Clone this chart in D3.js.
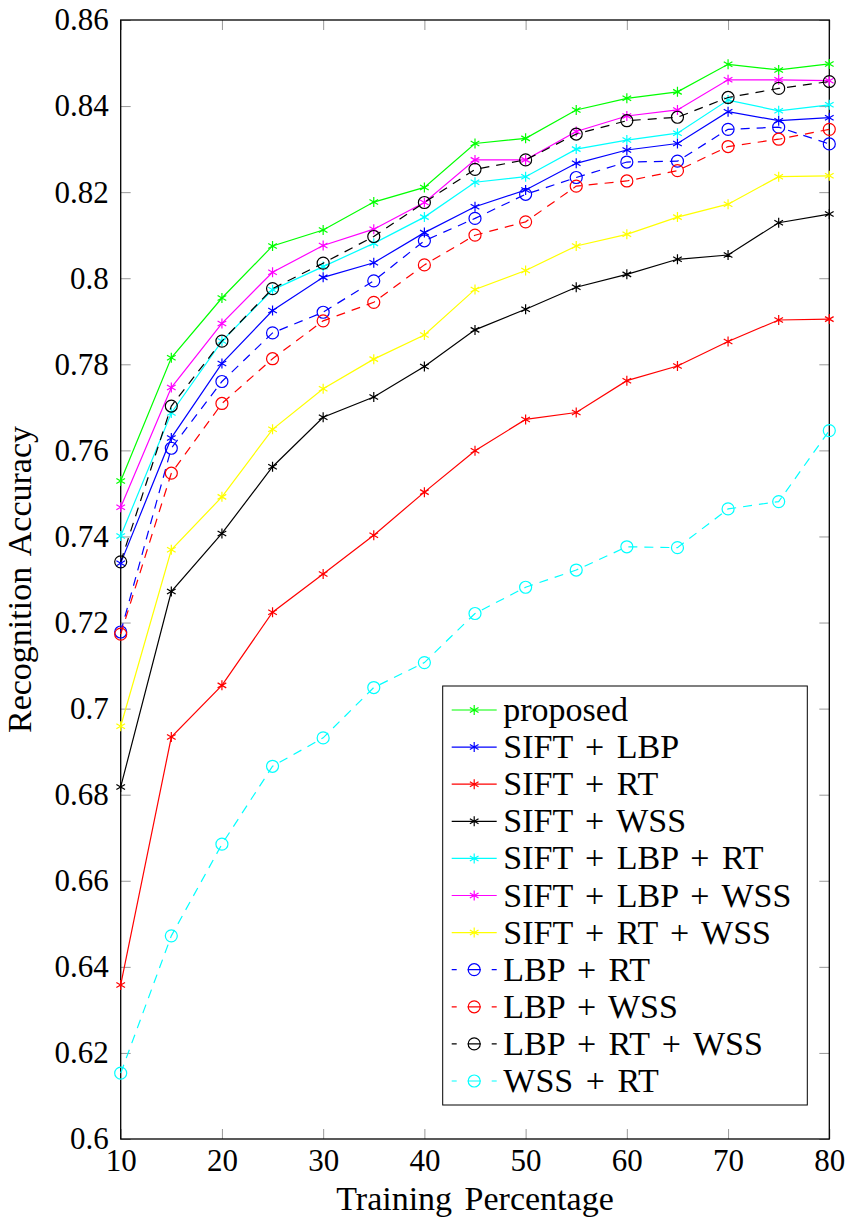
<!DOCTYPE html>
<html>
<head>
<meta charset="utf-8">
<script src="https://cdn.jsdelivr.net/npm/d3@7"></script>
</head>
<body style="margin:0; background:#fff">
<svg id="chart" width="846" height="1219"></svg>
<script>
// training percentage (x)
var percents = [10, 15, 20, 25, 30, 35, 40, 45, 50, 55, 60, 65, 70, 75, 80];

// accuracy per method
var proposed     = [0.7529, 0.7815, 0.7954, 0.8075, 0.8112, 0.8177, 0.8211, 0.8313, 0.8325, 0.8391, 0.8418, 0.8433, 0.8497, 0.8484, 0.8498];
var siftLbp      = [0.7338, 0.7629, 0.7802, 0.7925, 0.8002, 0.8036, 0.8106, 0.8166, 0.8205, 0.8267, 0.8298, 0.8313, 0.8387, 0.8366, 0.8373];
var siftRt       = [0.6358, 0.6934, 0.7054, 0.7224, 0.7313, 0.7403, 0.7503, 0.7599, 0.7672, 0.7688, 0.7762, 0.7796, 0.7853, 0.7903, 0.7905];
var siftWss      = [0.6818, 0.7272, 0.7407, 0.7562, 0.7677, 0.7724, 0.7795, 0.7880, 0.7928, 0.7979, 0.8009, 0.8044, 0.8054, 0.8129, 0.8149];
var siftLbpRt    = [0.7401, 0.7687, 0.7854, 0.7973, 0.8027, 0.8081, 0.8142, 0.8223, 0.8236, 0.8300, 0.8321, 0.8337, 0.8414, 0.8389, 0.8403];
var siftLbpWss   = [0.7468, 0.7746, 0.7895, 0.8014, 0.8076, 0.8114, 0.8176, 0.8275, 0.8275, 0.8341, 0.8377, 0.8391, 0.8461, 0.8461, 0.8459];
var siftRtWss    = [0.6959, 0.7369, 0.7492, 0.7649, 0.7743, 0.7812, 0.7868, 0.7974, 0.8018, 0.8075, 0.8102, 0.8142, 0.8172, 0.8236, 0.8238];
var lbpRt        = [0.7178, 0.7605, 0.7760, 0.7873, 0.7921, 0.7994, 0.8087, 0.8139, 0.8195, 0.8234, 0.8270, 0.8272, 0.8346, 0.8351, 0.8312];
var lbpWss       = [0.7173, 0.7547, 0.7709, 0.7813, 0.7901, 0.7944, 0.8031, 0.8100, 0.8131, 0.8214, 0.8226, 0.8250, 0.8306, 0.8323, 0.8346];
var lbpRtWss     = [0.7341, 0.7703, 0.7854, 0.7976, 0.8035, 0.8097, 0.8176, 0.8253, 0.8275, 0.8335, 0.8366, 0.8374, 0.8420, 0.8441, 0.8457];
var wssRt        = [0.6153, 0.6472, 0.6685, 0.6866, 0.6932, 0.7049, 0.7107, 0.7221, 0.7282, 0.7322, 0.7376, 0.7374, 0.7464, 0.7481, 0.7646];

var names   = ["proposed", "SIFT + LBP", "SIFT + RT", "SIFT + WSS", "SIFT + LBP + RT", "SIFT + LBP + WSS",
               "SIFT + RT + WSS", "LBP + RT", "LBP + WSS", "LBP + RT + WSS", "WSS + RT"];
var colors  = ["#00ff00", "#0000ff", "#ff0000", "#000000", "#00ffff", "#ff00ff",
               "#ffff00", "#0000ff", "#ff0000", "#000000", "#00ffff"];
var markers = ["star", "star", "star", "star", "star", "star", "star", "circle", "circle", "circle", "circle"];
var allSeries = [proposed, siftLbp, siftRt, siftWss, siftLbpRt, siftLbpWss, siftRtWss, lbpRt, lbpWss, lbpRtWss, wssRt];

var xTicks = [10, 20, 30, 40, 50, 60, 70, 80];
var yTicks = [0.6, 0.62, 0.64, 0.66, 0.68, 0.7, 0.72, 0.74, 0.76, 0.78, 0.8, 0.82, 0.84, 0.86];

var LEFT = 120.7, RIGHT = 829.3, TOP = 20, BOTTOM = 1139;
var TICK = 10;
var FONT = "Liberation Serif";

var svg = d3.select("#chart");
var x = d3.scaleLinear().domain([10, 80]).range([LEFT, RIGHT]);
var y = d3.scaleLinear().domain([0.6, 0.86]).range([BOTTOM, TOP]);

function fmt(d) { return String(+d.toFixed(2)); }

// inward ticks on every side
function styleAxis(g) {
    g.attr("font-family", FONT);
    g.select(".domain").remove();
    g.selectAll(".tick line").attr("stroke", "#999").attr("stroke-width", 1);
    g.selectAll("text").attr("fill", "#000").attr("font-size", 31);
}

svg.append("g").attr("transform", "translate(" + LEFT + ",0)")
    .call(d3.axisLeft(y).tickValues(yTicks).tickSize(-TICK).tickPadding(12).tickFormat(fmt))
    .call(styleAxis);

svg.append("g").attr("transform", "translate(" + RIGHT + ",0)")
    .call(d3.axisRight(y).tickValues(yTicks).tickSize(-TICK).tickFormat(""))
    .call(styleAxis);

svg.append("g").attr("transform", "translate(0," + BOTTOM + ")")
    .call(d3.axisBottom(x).tickValues(xTicks).tickSize(-TICK).tickPadding(10).tickFormat(d3.format("d")))
    .call(styleAxis);

svg.append("g").attr("transform", "translate(0," + TOP + ")")
    .call(d3.axisTop(x).tickValues(xTicks).tickSize(-TICK).tickFormat(""))
    .call(styleAxis);

// frame
svg.append("rect")
    .attr("x", LEFT).attr("y", TOP)
    .attr("width", RIGHT - LEFT).attr("height", BOTTOM - TOP)
    .attr("fill", "none").attr("stroke", "#000").attr("stroke-width", 1.3);

// axis titles
svg.append("text")
    .attr("x", (LEFT + RIGHT) / 2).attr("y", 1210)
    .attr("text-anchor", "middle").attr("font-size", 34)
    .attr("word-spacing", 4)
    .text("Training Percentage");

svg.append("text")
    .attr("transform", "translate(31," + ((TOP + BOTTOM) / 2) + ") rotate(-90)")
    .attr("text-anchor", "middle").attr("font-size", 34)
    .attr("word-spacing", 4)
    .text("Recognition Accuracy");

var starPath = "M0,-5L0,5M-4.33,-2.5L4.33,2.5M-4.33,2.5L4.33,-2.5";

function drawMarker(g, kind, color, cx, cy) {
    if (kind == "star") {
        g.append("path").attr("d", starPath)
            .attr("transform", "translate(" + cx + "," + cy + ")")
            .attr("fill", "none").attr("stroke", color).attr("stroke-width", 1.2);
    } else {
        g.append("circle").attr("cx", cx).attr("cy", cy).attr("r", 6)
            .attr("fill", "none").attr("stroke", color).attr("stroke-width", 1.2);
    }
}

var line = d3.line()
    .x(function (d, i) { return x(percents[i]); })
    .y(function (d) { return y(d); });

var plot = svg.append("g");
for (var s = 0; s < allSeries.length; s++) {
    var dashed = markers[s] == "circle";
    plot.append("path")
        .attr("d", line(allSeries[s]))
        .attr("fill", "none")
        .attr("stroke", colors[s])
        .attr("stroke-width", 1.2)
        .attr("stroke-dasharray", dashed ? "9,7" : null);
    var mg = plot.append("g");
    for (var i = 0; i < percents.length; i++) {
        drawMarker(mg, markers[s], colors[s], x(percents[i]), y(allSeries[s][i]));
    }
}

// legend
var LX = 442.7, LY = 686, LW = 364.6, LH = 419;
var legend = svg.append("g");
legend.append("rect")
    .attr("x", LX).attr("y", LY).attr("width", LW).attr("height", LH)
    .attr("fill", "#fff").attr("stroke", "#000").attr("stroke-width", 1);

for (var k = 0; k < names.length; k++) {
    var cy = 710 + k * 37.1;
    var isDash = markers[k] == "circle";
    legend.append("line")
        .attr("x1", 451.7).attr("x2", 496.7)
        .attr("y1", cy).attr("y2", cy)
        .attr("stroke", colors[k]).attr("stroke-width", 1.2)
        .attr("stroke-dasharray", isDash ? "5,11,13,11,5" : null);
    drawMarker(legend, markers[k], colors[k], 474.2, cy);
    legend.append("text")
        .attr("x", 503.3).attr("y", cy + 11)
        .attr("font-size", 34)
        .attr("word-spacing", 4)
        .text(names[k]);
}

// one serif face for every label
svg.selectAll("text").attr("font-family", FONT).style("font-family", "'" + FONT + "'");
</script>
</body>
</html>
